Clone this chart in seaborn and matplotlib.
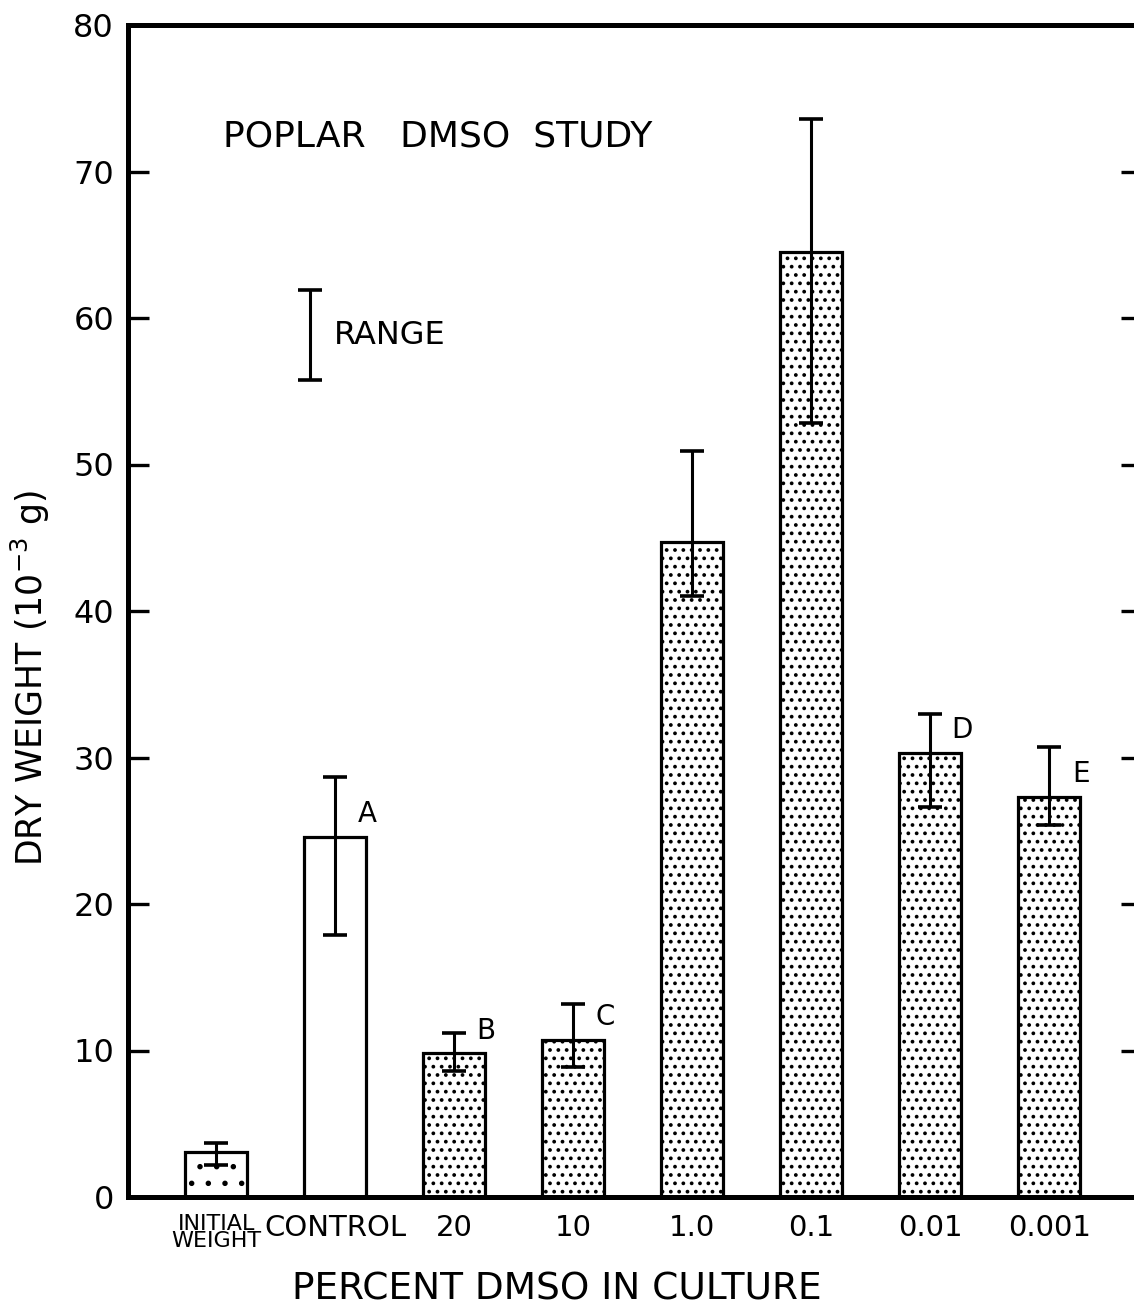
import matplotlib
matplotlib.use("Agg")
import matplotlib.pyplot as plt
import seaborn as sns
import pandas as pd
import numpy as np

# ---- data ----
categories = ["INITIAL\nWEIGHT", "CONTROL", "20", "10", "1.0", "0.1", "0.01", "0.001"]
means = [3.1, 24.6, 9.8, 10.7, 44.7, 64.5, 30.3, 27.3]
err_low = [2.2, 17.9, 8.6, 8.9, 41.0, 52.8, 26.6, 25.4]
err_high = [3.7, 28.7, 11.2, 13.2, 50.9, 73.6, 33.0, 30.7]
letters = ["", "A", "B", "C", "", "", "D", "E"]
hatches = [".", "", "..", "..", "..", "..", "..", ".."]
yticks = [0, 10, 20, 30, 40, 50, 60, 70, 80]

sns.set_theme(style="white")
plt.rcParams["font.family"] = ["DejaVu Sans"]
plt.rcParams["hatch.linewidth"] = 1.5
plt.rcParams["hatch.color"] = "black"

df = pd.DataFrame({"cat": categories, "mean": means})

W, H = 1134, 1308
fig = plt.figure(figsize=(W / 100, H / 100), dpi=100)
ax = fig.add_axes([128 / W, 1 - 1197 / H, (1142 - 128) / W, (1197 - 25) / H])

sns.barplot(data=df, x="cat", y="mean", order=categories, color="white",
            edgecolor="black", linewidth=2.3, width=0.52, ax=ax,
            errorbar=None, saturation=1)
for p, h in zip(ax.patches, hatches):
    p.set_facecolor("white")
    p.set_hatch(h)

x = np.arange(len(categories))
m = np.array(means)
yerr = np.vstack([m - np.array(err_low), np.array(err_high) - m])
ax.errorbar(x, m, yerr=yerr, fmt="none", ecolor="black", elinewidth=2.2,
            capsize=8.5, capthick=2.6, zorder=5)

for xi, (lt, top) in enumerate(zip(letters, means)):
    if lt:
        ax.text(xi + 0.27, top + 0.6, lt, fontsize=20, ha="center",
                va="bottom", color="black")

ax.set_xlim(-0.74, 7.78)
ax.set_ylim(0, 80)
ax.set_yticks(yticks)
ax.set_yticklabels([str(t) for t in yticks], fontsize=23)
ax.set_xticks(x)
ax.set_xticklabels(categories, fontsize=21)
lbls = ax.get_xticklabels()
lbls[0].set_fontsize(16)
lbls[0].set_linespacing(0.85)
lbls[0].set_horizontalalignment("center")
lbls[0].set_x(-0.1)

ax.tick_params(axis="y", which="both", direction="in", length=15, width=2.4,
               left=True, right=True, pad=10, colors="black")
ax.tick_params(axis="x", length=0, pad=12, colors="black")
for s in ["left", "top", "bottom", "right"]:
    ax.spines[s].set_visible(True)
    ax.spines[s].set_color("black")
    ax.spines[s].set_linewidth(3.6)
ax.set_xlabel("")
ax.set_ylabel("")

# title text inside plot
ax.text(0.094, 0.905, "POPLAR   DMSO  STUDY", transform=ax.transAxes,
        fontsize=26, ha="left", va="center", color="black")

# range key
ax.errorbar([0.79], [58.85], yerr=[[3.05], [3.05]], fmt="none", ecolor="black",
            elinewidth=2.2, capsize=8.5, capthick=2.6)
ax.text(0.99, 58.8, "RANGE", fontsize=23, ha="left", va="center", color="black")

fig.text(30 / W, 1 - 678 / H, "DRY WEIGHT (10$^{-3}$ g)", rotation=90,
         fontsize=25, ha="center", va="center", color="black")
fig.text(557 / W, 1 - 1290 / H, "PERCENT DMSO IN CULTURE", fontsize=27,
         ha="center", va="center", color="black")

fig.savefig("out.png", dpi=100, facecolor="white")
